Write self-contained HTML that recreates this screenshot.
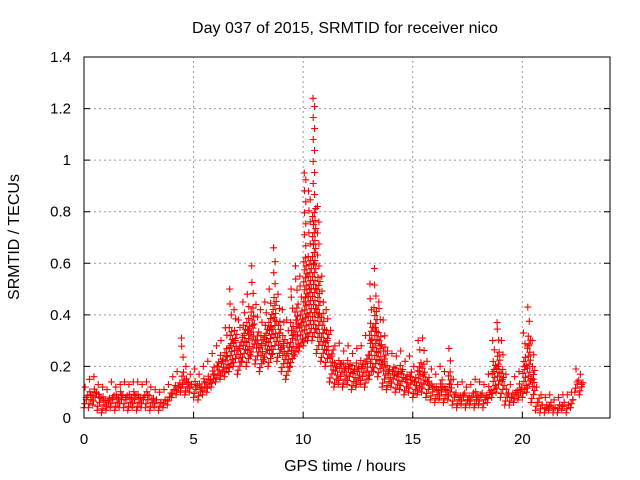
<!DOCTYPE html>
<html><head><meta charset="utf-8"><style>
body{margin:0;background:#fff}
svg{display:block;font-family:"Liberation Sans",Arial,sans-serif}
</style></head><body>
<svg id="chart" width="640" height="480" xmlns="http://www.w3.org/2000/svg">
<text x="345" y="33" font-size="16" text-anchor="middle">Day 037 of 2015, SRMTID for receiver nico</text>
<text transform="translate(19,237) rotate(-90)" font-size="16" text-anchor="middle">SRMTID / TECUs</text>
<text x="345" y="471" font-size="16" text-anchor="middle">GPS time / hours</text>
<g id="grid"></g>
<g id="ticks"></g>
<g id="points"></g>
<rect x="84" y="57" width="526" height="361" fill="none" stroke="#000" stroke-width="1"/>
</svg>
<script>
const xTicks=[0,5,10,15,20];
const yTicks=[0,0.2,0.4,0.6,0.8,1,1.2,1.4];
const yTickLabels=["0","0.2","0.4","0.6","0.8","1","1.2","1.4"];
const t0=0, dt=0.2;
const lo=[.04,.04,.05,.03,.02,.03,.04,.03,.04,.04,.03,.04,.03,.04,.04,.03,.04,.03,.04,.05,.08,.09,.10,.09,.10,.08,.07,.09,.10,.12,.14,.15,.16,.18,.20,.17,.22,.20,.24,.21,.18,.22,.20,.25,.22,.18,.15,.20,.24,.26,.28,.30,.30,.25,.22,.20,.14,.12,.13,.12,.13,.11,.12,.13,.12,.15,.18,.16,.12,.11,.12,.10,.11,.09,.10,.08,.09,.10,.08,.07,.06,.07,.06,.07,.05,.04,.05,.04,.05,.04,.05,.04,.06,.08,.10,.08,.05,.05,.06,.07,.08,.10,.06,.03,.02,.02,.03,.02,.02,.03,.02,.04,.10,.09];
const mid=[.08,.09,.10,.08,.07,.07,.08,.08,.09,.08,.08,.09,.08,.08,.09,.07,.07,.06,.07,.08,.11,.12,.13,.14,.13,.12,.12,.14,.15,.17,.20,.22,.24,.28,.30,.27,.32,.34,.36,.30,.28,.32,.35,.38,.33,.28,.25,.32,.38,.36,.45,.50,.60,.40,.33,.30,.24,.20,.21,.19,.20,.18,.19,.20,.22,.30,.35,.28,.22,.18,.18,.17,.18,.15,.16,.14,.18,.17,.14,.12,.11,.12,.11,.13,.09,.08,.09,.07,.08,.08,.09,.08,.10,.18,.20,.15,.09,.08,.10,.11,.20,.28,.15,.06,.05,.04,.05,.04,.05,.05,.05,.07,.14,.13];
const hi=[.12,.15,.16,.13,.12,.11,.14,.12,.13,.14,.13,.14,.14,.13,.14,.12,.11,.10,.11,.13,.16,.18,.31,.20,.17,.19,.17,.20,.22,.25,.28,.30,.35,.50,.42,.38,.45,.48,.59,.44,.42,.45,.50,.66,.48,.42,.38,.50,.59,.55,.95,.88,1.24,.82,.55,.42,.34,.28,.29,.26,.28,.25,.27,.28,.32,.52,.58,.45,.38,.26,.25,.24,.26,.22,.24,.20,.30,.31,.22,.19,.17,.20,.18,.27,.15,.13,.14,.12,.13,.15,.14,.13,.17,.30,.37,.30,.17,.13,.16,.18,.33,.43,.30,.12,.09,.08,.09,.07,.08,.09,.09,.10,.19,.17];
const X0=84,X1=610,Y0=418,Y1=57,XMAX=24,YMAX=1.4;
const xs=v=>X0+(X1-X0)*v/XMAX;
const ys=v=>Y0-(Y0-Y1)*v/YMAX;
const NS="http://www.w3.org/2000/svg";
const grid=document.getElementById('grid'),ticks=document.getElementById('ticks'),pts=document.getElementById('points');
function mk(tag,attrs,parent){const e=document.createElementNS(NS,tag);for(const k in attrs)e.setAttribute(k,attrs[k]);parent.appendChild(e);return e;}
xTicks.forEach(v=>{
  const x=xs(v);
  if(v>0){const g=mk('line',{x1:x,x2:x,y1:Y0,y2:Y1,stroke:'#999','stroke-dasharray':'2,3'},grid);
  
  }
  const tk=mk('line',{x1:x,x2:x,y1:Y0,y2:Y0-6,stroke:'#000'},ticks);
  
  
  const t=mk('text',{x:x,y:444,'font-size':15,'text-anchor':'middle'},ticks);t.textContent=v;
  
  
});
yTicks.forEach((v,i)=>{
  const y=ys(v);
  if(v>0&&v<YMAX){const g=mk('line',{x1:X0,x2:X1,y1:y,y2:y,stroke:'#999','stroke-dasharray':'2,3'},grid);
  
  }
  const tk=mk('path',{d:`M${X0},${y}h6M${X1},${y}h-6`,stroke:'#000'},ticks);
  
  
  const t=mk('text',{x:71,y:y+5,'font-size':15,'text-anchor':'end'},ticks);t.textContent=yTickLabels[i];
  
  
});
let d='';
function plusAt(x,y){d+=`M${(x-3.5).toFixed(1)},${y.toFixed(1)}h7M${x.toFixed(1)},${(y-3.5).toFixed(1)}v7`;}
lo.forEach((v,i)=>{
  const t=t0+i*dt;
  const xa=xs(t), xb=xs(t+dt);
  const yl=ys(v), ym=ys(mid[i]), yh=ys(hi[i]);
  plusAt(xa,yl); plusAt((xa+xb)/2,ym); plusAt(xa+(xb-xa)/4,yh);
  // dense core between low value and a bit above the central value
  const core=ym-(ym-yh)*0.35;
  let k=0;
  for(let y=yl-4;y>core;y-=4,k++){
    const f=[0.15,0.55,0.85,0.35,0.7][k%5];
    plusAt(xa+(xb-xa)*f,y);
  }
  // sparse tail up to the high value
  k=0;
  for(let y=core-11;y>yh+6;y-=11,k++){
    plusAt(xa+(xb-xa)*[0.6,0.3][k%2],y);
  }
});
const p=mk('path',{d:d,stroke:'#f00','stroke-width':1.1,fill:'none'},pts);


</script>
</body></html>
